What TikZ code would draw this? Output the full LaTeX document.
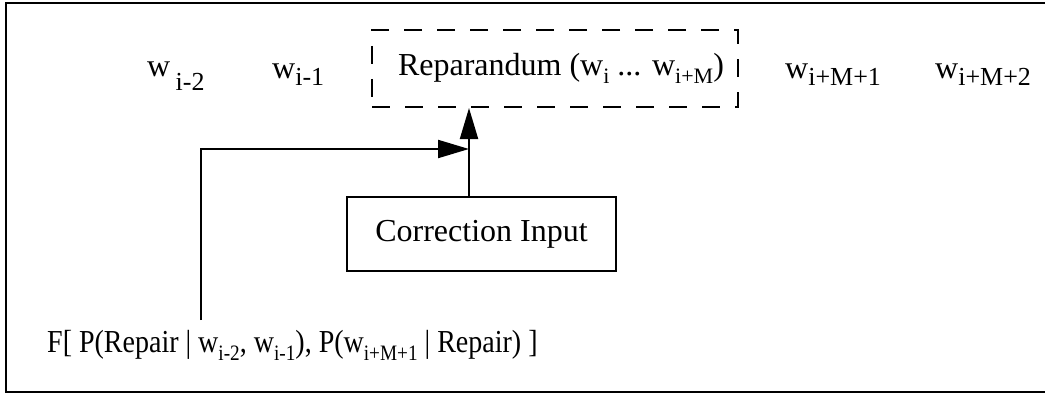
\documentclass[tikz,border=0pt]{standalone}
\usepackage{fontspec}
\setmainfont{Liberation Serif}
\usetikzlibrary{arrows.meta}
\newcommand{\sbs}[2][-8pt]{\raisebox{#1}{\fontsize{22}{22}\selectfont #2}}
\newcommand{\sbb}[2][-8pt]{\raisebox{#1}{\fontsize{26}{26}\selectfont #2}}
\begin{document}
\begin{tikzpicture}[x=1pt,y=-1pt,
  txt/.style={inner sep=0pt,font=\fontsize{32}{36}\selectfont},
  boxed/.style={draw,line width=2pt,inner sep=0pt},
  conn/.style={line width=2pt,-{Triangle[length=31pt,width=18pt]}},
  frame/.style={line width=2.5pt}]
\useasboundingbox (0,0) rectangle (1045,396);
\draw[frame] (1045,3) -- (6,3) -- (6,392) -- (1045,392);

\node[txt,anchor=base west] (w2) at (147,79) {\raisebox{2pt}{w}\,\sbb[-12pt]{i-2}};
\node[txt,anchor=base west] (w1) at (272,78) {w\sbb{i-1}};
\node[boxed,dashed,dash pattern=on 18pt off 15pt,minimum width=366pt,minimum height=77pt,txt,draw]
  (rep) at (555,68.5) {\hspace*{12pt}Reparandum (w\sbs{i} ... w\sbs{i+M})};
\node[txt,anchor=base west] (w3) at (785,78) {w\sbb{i+M+1}};
\node[txt,anchor=base west] (w4) at (935,78) {w\sbb{i+M+2}};

\node[boxed,txt,minimum width=269pt,minimum height=74pt] (corr) at (481.5,234) {Correction Input};

\node[txt,anchor=base west] (f) at (47,352) {\scalebox{0.875}[1]{F[ P(Repair | w\sbs{i-2}, w\sbs{i-1}), P(w\sbs{i+M+1} | Repair) ]}};

\coordinate (j) at (469,149);
\coordinate (s) at (201,320);
\draw[conn] (s) |- (j);
\draw[conn] (corr.north -| j) -- (rep.south -| j);
\end{tikzpicture}
\end{document}
